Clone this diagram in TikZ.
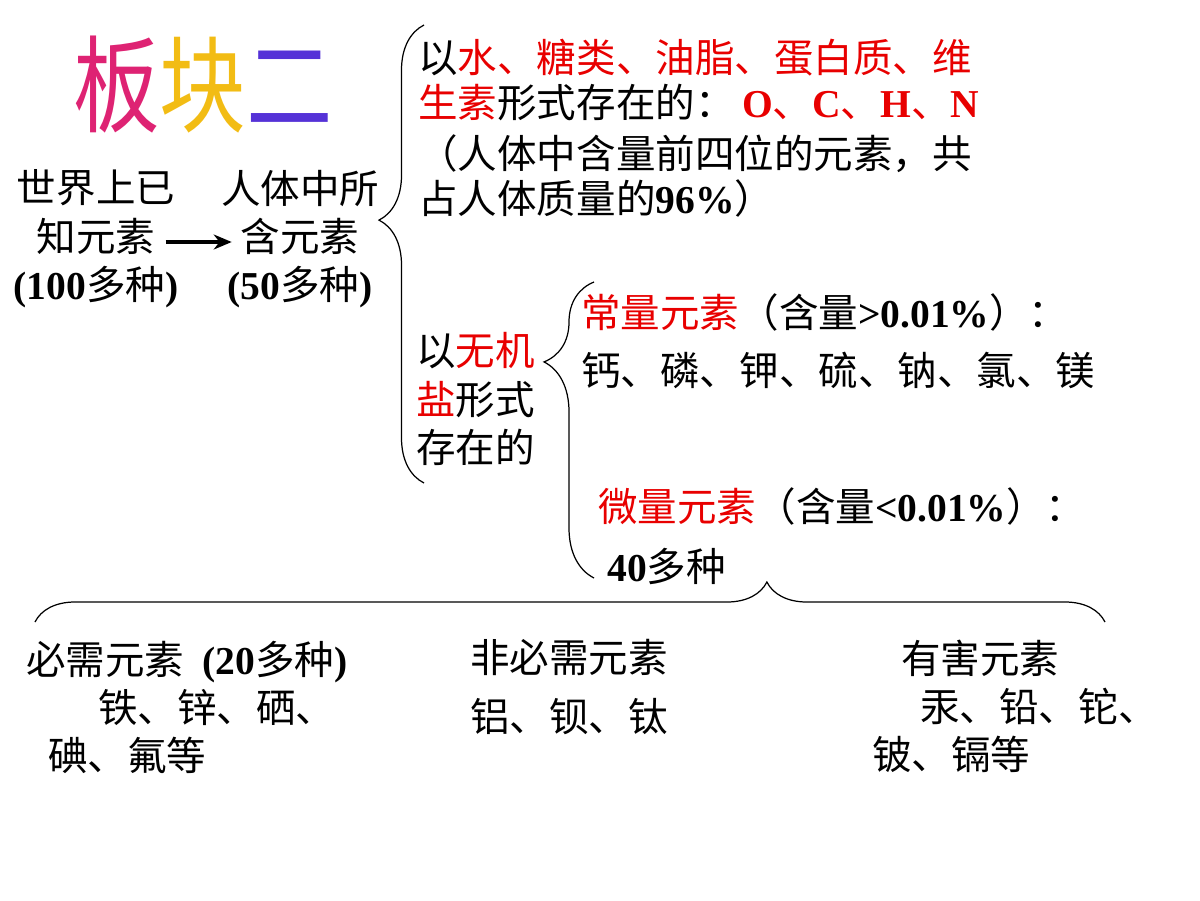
\documentclass[tikz,border=0pt]{standalone}
\usepackage{fontspec}
\setmainfont{Liberation Serif}
\newfontfamily\cjk{Noto Sans CJK SC}
\newfontfamily\titlefont[FakeStretch=0.82]{Noto Sans CJK SC}
\usetikzlibrary{arrows.meta}
\usetikzlibrary{positioning}
\usetikzlibrary{decorations.pathreplacing}

\definecolor{hlred}{RGB}{232,0,0}
\definecolor{rbrose}{RGB}{222,35,115}
\definecolor{rbyellow}{RGB}{242,188,20}
\definecolor{rbviolet}{RGB}{85,50,215}

\newcommand{\titlesize}{\titlefont\fontsize{60}{60}\selectfont}
\newcommand{\lat}[1]{{\rmfamily\bfseries #1}}
\newcommand{\hl}[1]{\textcolor{hlred}{#1}}

\begin{document}
\begin{tikzpicture}[x=0.02cm, y=-0.02cm,
        txt/.style={font=\cjk\fontsize{22.5}{#1}\selectfont, inner sep=0pt, align=left},
        txt/.default=25.6,
        titletxt/.style={font=\titlesize, inner sep=0pt},
        brc/.style={decorate, decoration=brace, line width=0.7pt},
        arr/.style={-{Stealth[length=0.36cm, width=0.3cm]}, line width=0.08cm}]
        \useasboundingbox (0,0) rectangle (1200,900);

        \node[titletxt] (title) at (203,85) {\textcolor{rbrose}{板}\textcolor{rbyellow}{块}\textcolor{rbviolet}{二}};

        \node[txt=27.5, align=center] (known) at (96,239) {世界上已\\知元素\\\lat{(100}多种\lat{)}};
        \node[txt=27.5, align=center, right=0.84cm of known] (body) {人体中所\\含元素\\\lat{(50}多种\lat{)}};
        \draw[arr] ([xshift=-0.26cm, yshift=-0.06cm]known.east) -- ([xshift=0.22cm, yshift=-0.06cm]body.west);

        \coordinate (mainbot) at (424,483);
        \coordinate (maintop) at (424,25);
        \draw[brc, decoration={amplitude=0.9cm, aspect=0.574}] (mainbot) -- (maintop);

        \node[txt=25.6, anchor=west] (organic) at (418,128) {以\hl{水、糖类、油脂、蛋白质、维}\\\hl{生素}形式存在的：\hspace*{0.15cm}\hl{\lat{O}、\lat{C}、\lat{H}、\lat{N}}\\[0.12cm]（人体中含量前四位的元素，共\\占人体质量的\lat{96\%}）};
        \node[txt=27.6, anchor=west] (inorganic) at (416,399) {以\hl{无机}\\\hl{盐}形式\\存在的};

        \coordinate (saltbot) at (594,578);
        \coordinate (salttop) at (594,282);
        \draw[brc, decoration={amplitude=1cm, aspect=0.73}] (saltbot) -- (salttop);

        \node[txt=33, anchor=west] (major) at (581,341) {\hl{常量元素}（含量\lat{>0.01\%}）：\\钙、磷、钾、硫、钠、氯、镁};
        \node[txt=34, anchor=west] (trace) at (598,536) {\hl{微量元素}（含量\lat{<0.01\%}）：\\\hspace*{0.18cm}\lat{40}多种};

        \coordinate (traceleft) at (35,622);
        \coordinate (traceright) at (1105,622);
        \draw[brc, decoration={amplitude=0.8cm, aspect=0.684}] (traceleft) -- (traceright);

        \node[txt=27.3, anchor=west] (essential) at (26,707) {必需元素 \hspace*{0.18cm}\lat{(20}多种\lat{)}\\\hspace*{1.44cm}铁、锌、硒、\\\hspace*{0.44cm}碘、氟等};
        \node[txt=33.6, anchor=west] (nonessential) at (470,687) {非必需元素\\铝、钡、钛};
        \node[txt=27.3, anchor=west] (harmful) at (872,706) {\hspace*{0.58cm}有害元素\\\hspace*{0.96cm}汞、铅、铊、\\铍、镉等};
\end{tikzpicture}
\end{document}
